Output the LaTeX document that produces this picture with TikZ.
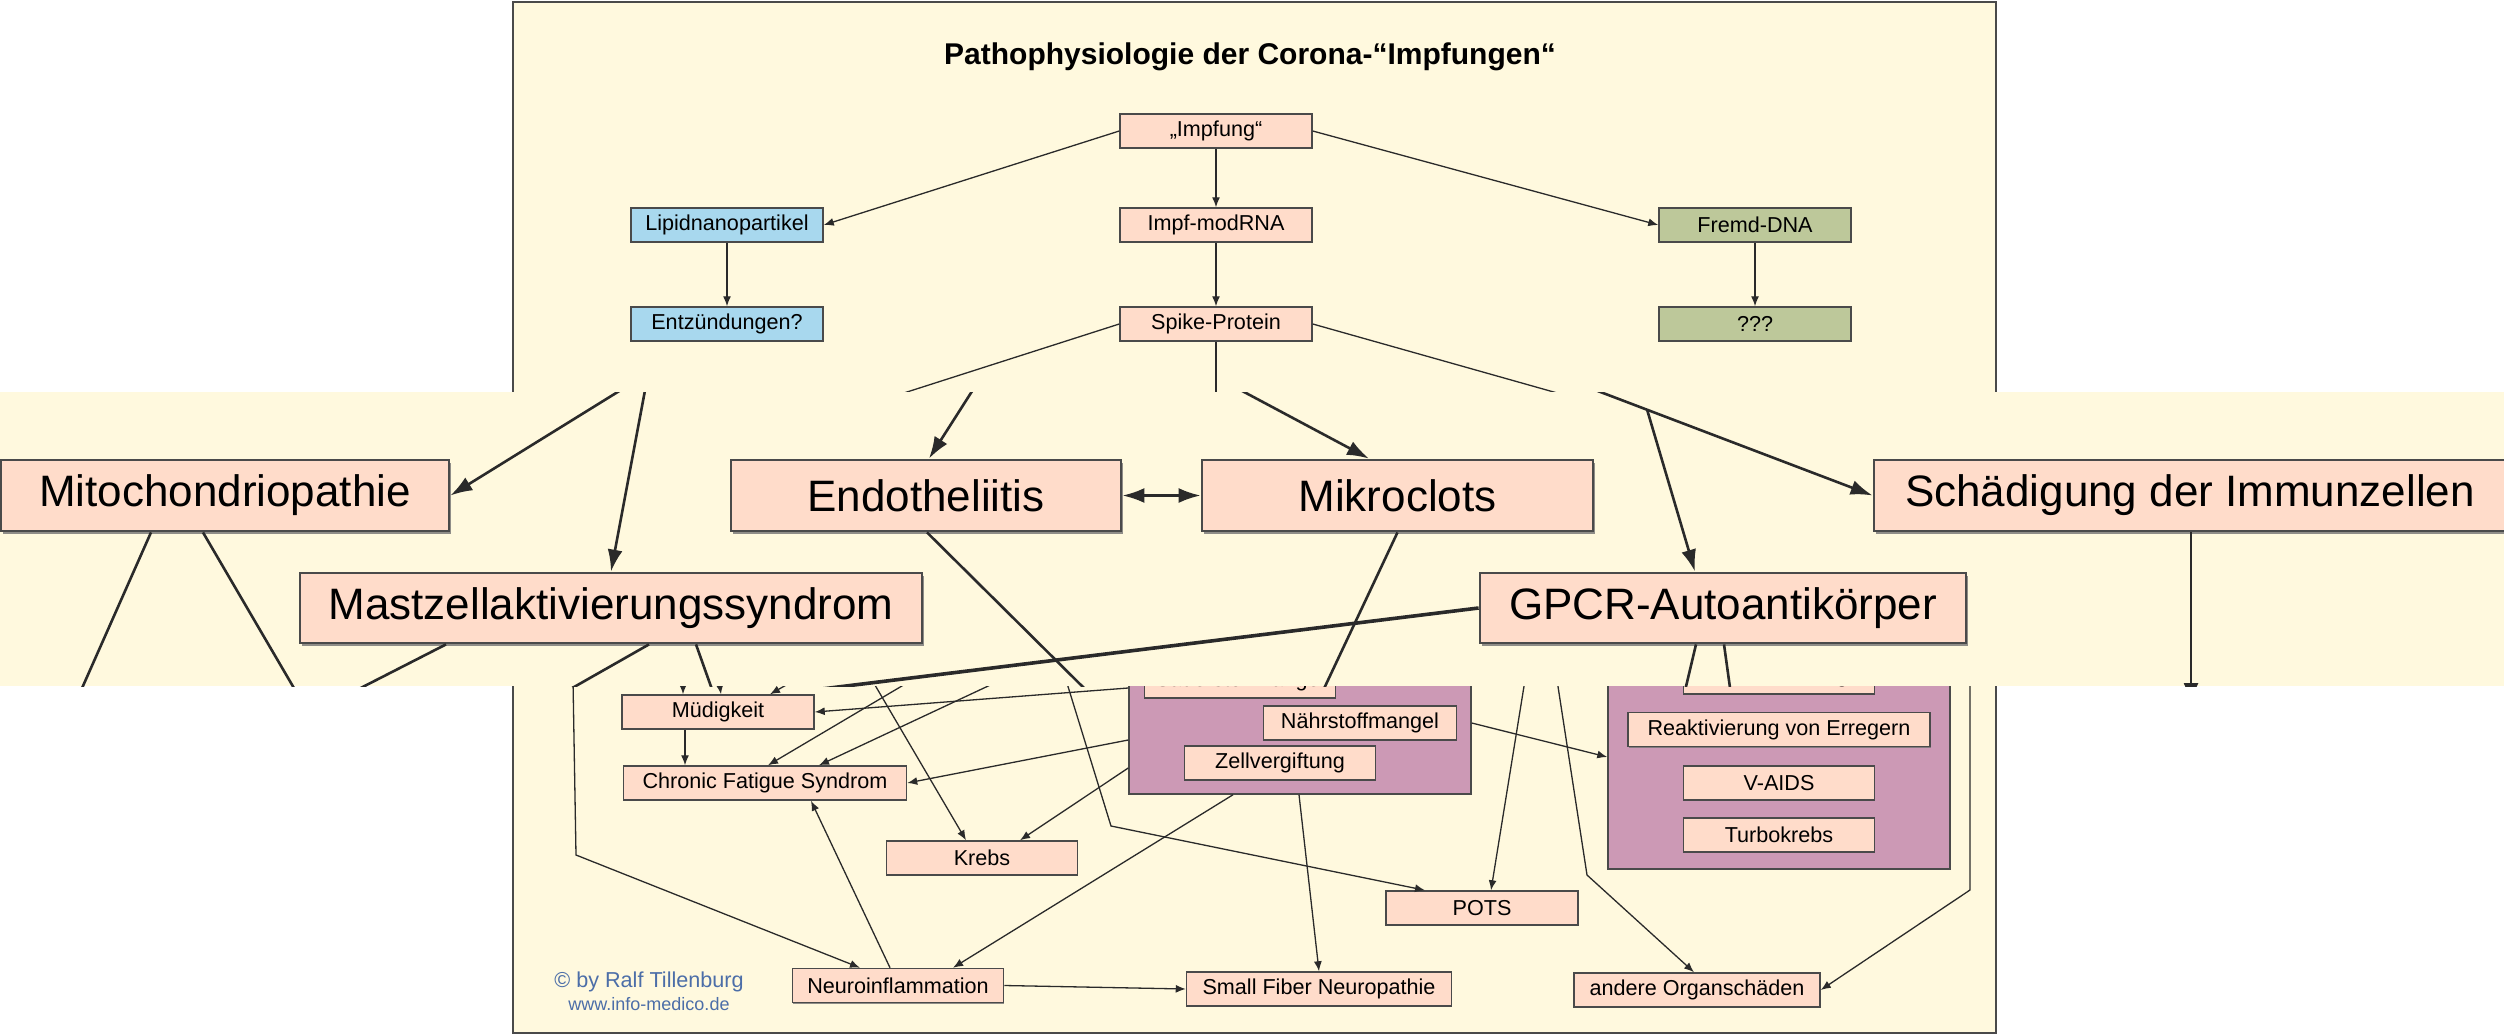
\documentclass[tikz,border=0pt]{standalone}
\usepackage{fontspec}
\setmainfont{Liberation Sans}
\usetikzlibrary{arrows.meta,calc,shadows}
\definecolor{cream}{HTML}{FFF9DE}
\definecolor{pk}{HTML}{FFDCCA}
\definecolor{bl}{HTML}{A8D8EE}
\definecolor{gr}{HTML}{BDC89A}
\definecolor{pu}{HTML}{CC99B5}
\definecolor{bord}{HTML}{4A4A4A}
\definecolor{lc}{HTML}{2A2A2A}
\definecolor{cpy}{HTML}{4C6EA8}
\newcommand\smallfnt{\fontsize{21.6}{26}\selectfont}
\newcommand\bigfnt{\fontsize{44}{52}\selectfont}
\begin{document}
\begin{tikzpicture}[x=1pt,y=-1pt,
  sbox/.style={draw=bord,line width=1.5pt,fill=pk,minimum height=34pt,inner sep=0pt,font=\smallfnt,
    drop shadow={shadow xshift=0.8pt,shadow yshift=-1.2pt,fill=black!55,opacity=0.8}},
  bbox/.style={draw=bord,line width=2.8pt,fill=pk,minimum height=71pt,inner sep=0pt,font=\bigfnt,
    drop shadow={shadow xshift=1.5pt,shadow yshift=-2.5pt,fill=black!55,opacity=0.8}},
  grp/.style={draw=bord,line width=1.5pt,fill=pu,inner sep=0pt},
  sln/.style={draw=lc,line width=1.3pt},
  sarr/.style={sln,-{Latex[length=10pt,width=8pt]}},
  bln/.style={draw=lc,line width=2.6pt},
  barr/.style={bln,-{Latex[length=22pt,width=15pt]}},
  barr2/.style={bln,{Latex[length=22pt,width=15pt]}-{Latex[length=22pt,width=15pt]}},
]
\useasboundingbox (0,0) rectangle (2504,1036);
\fill[white] (0,0) rectangle (2504,1036);
% slide
\draw[fill=cream,draw=bord,line width=2pt] (513,2) rectangle (1996,1033);
\node[font=\fontsize{30}{36}\selectfont\bfseries] (title) at (1250,57) {Pathophysiologie der Corona-“Impfungen“};
\node[sbox,minimum width=192pt] (imp) at (1216,131) {„Impfung“};
\node[sbox,fill=bl,minimum width=192pt] (lip) at (727,225) {Lipidnanopartikel};
\node[sbox,minimum width=192pt] (mod) at (1216,225) {Impf-modRNA};
\node[sbox,fill=gr,minimum width=192pt] (fremd) at (1755,225) {Fremd-DNA};
\node[sbox,fill=bl,minimum width=192pt] (entz) at (727,324) {Entzündungen?};
\node[sbox,minimum width=192pt] (spike) at (1216,324) {Spike-Protein};
\node[sbox,fill=gr,minimum width=192pt] (qqq) at (1755,324) {???};
\draw[sarr] (imp.west) -- (lip.east);
\draw[sarr] (imp) -- (mod);
\draw[sarr] (imp.east) -- (fremd.west);
\draw[sarr] (lip) -- (entz);
\draw[sarr] (mod) -- (spike);
\draw[sarr] (fremd) -- (qqq);
\coordinate (sp1) at (882,400);
\coordinate (sp2) at (1216,400);
\coordinate (sp3) at (1582,400);
\draw[sln] (spike.west) -- (sp1);
\draw[sln] (spike.south) -- (sp2);
\draw[sln] (spike.east) -- (sp3);
% lower slide
\node[grp,minimum width=342pt,minimum height=160pt] (grp1) at (1300,714) {};
\node[grp,minimum width=342pt,minimum height=235pt] (grp2) at (1779,751.5) {};
\node[sbox,minimum width=191pt] (sauer) at (1240,681) {Sauerstoffmangel};
\node[sbox,minimum width=193pt] (naehr) at (1360,723) {Nährstoffmangel};
\node[sbox,minimum width=191pt] (zell) at (1280,763) {Zellvergiftung};
\node[sbox,minimum width=191pt] (immun) at (1779,677) {Immunstörung};
\node[sbox,minimum width=302pt] (reakt) at (1779,729.5) {Reaktivierung von Erregern};
\node[sbox,minimum width=191pt] (vaids) at (1779,783) {V-AIDS};
\node[sbox,minimum width=191pt] (turbo) at (1779,835) {Turbokrebs};
\node[sbox,minimum width=192pt] (mued) at (718,712) {Müdigkeit};
\node[sbox,minimum width=283pt] (cfs) at (765,783) {Chronic Fatigue Syndrom};
\node[sbox,minimum width=191pt] (krebs) at (982,858) {Krebs};
\node[sbox,minimum width=211pt] (neuro) at (898,985.5) {Neuroinflammation};
\node[sbox,minimum width=265pt] (sfn) at (1319,989) {Small Fiber Neuropathie};
\node[sbox,minimum width=192pt] (pots) at (1482,908) {POTS};
\node[sbox,minimum width=246pt] (andere) at (1697,990) {andere Organschäden};
\node[text=cpy,font=\smallfnt] (copy) at (649,982) {© by Ralf Tillenburg};
\node[text=cpy,font=\fontsize{18}{21}\selectfont] (www) at (649,1004) {www.info-medico.de};
% lines from hidden sources
\coordinate (u1) at (573,680);
\coordinate (k1) at (576,855);
\draw[sarr] (u1) -- (k1) -- ([xshift=-38pt]neuro.north);
\coordinate (u2) at (683,680);
\draw[sarr] (u2) -- ([xshift=-35pt]mued.north);
\coordinate (u3) at (719,680);
\draw[sarr] (u3) -- ([xshift=3pt]mued.north);
\coordinate (u4) at (795,680);
\draw[sarr] (u4) -- ([xshift=52pt]mued.north);
\coordinate (u5) at (912,680);
\draw[sarr] (u5) -- ([xshift=3pt]cfs.north);
\coordinate (u6) at (1001,680);
\draw[sarr] (u6) -- ([xshift=54pt]cfs.north);
\coordinate (u7) at (872,680);
\draw[sarr] (u7) -- ([xshift=-16pt]krebs.north);
\coordinate (u8) at (1066,680);
\coordinate (k8) at (1111,826);
\draw[sarr] (u8) -- (k8) -- ([xshift=-57pt]pots.north);
\coordinate (u9) at (1525,680);
\draw[sarr] (u9) -- ([xshift=9pt]pots.north);
\coordinate (u10) at (1557,680);
\coordinate (k10) at (1587,875);
\draw[sarr] (u10) -- (k10) -- ([xshift=-3pt]andere.north);
\coordinate (u11) at (1970,680);
\coordinate (k11) at (1970,890);
\draw[sarr] (u11) -- (k11) -- (andere.east);
% group lines
\draw[sarr] (grp1.west |- 0,688) -- (mued.east);
\draw[sarr] (grp1.west |- 0,740) -- (cfs.east);
\draw[sarr] (grp1.west |- 0,768) -- ([xshift=38pt]krebs.north);
\draw[sarr] ([xshift=-67pt]grp1.south) -- ([xshift=55pt]neuro.north);
\draw[sarr] ([xshift=-1pt]grp1.south) -- (sfn.north);
\draw[sarr] ([xshift=-8pt]neuro.north) -- ([xshift=46pt]cfs.south);
\draw[sarr] ([xshift=-33pt]mued.south) -- ([xshift=-80pt]cfs.north);
\draw[sarr] (neuro.east) -- (sfn.west);
\draw[sarr] (grp1.east |- naehr.east) -- ([yshift=-5.5pt]grp2.west);
% magnified band
\begin{scope}
\clip (0,392) rectangle (2504,686);
\fill[cream] (0,392) rectangle (2504,686);
\node[bbox,minimum width=448pt] (mito) at (225,495.5) {Mitochondriopathie};
\node[bbox,minimum width=390pt] (endo) at (926,495.5) {Endotheliitis};
\node[bbox,minimum width=391pt] (mikro) at (1397.5,495.5) {Mikroclots};
\node[bbox,minimum width=632pt] (schaed) at (2190,495.5) {Schädigung der Immunzellen};
\node[bbox,minimum width=622pt,minimum height=70pt] (mast) at (611,608) {Mastzellaktivierungssyndrom};
\node[bbox,minimum width=486pt,minimum height=70pt] (gpcr) at (1723,608) {GPCR-Autoantikörper};
\coordinate (t1) at (629,385);
\coordinate (t2) at (646,385);
\coordinate (t3) at (976,385);
\coordinate (t4) at (1231,385);
\coordinate (t5) at (1582,385);
\coordinate (br) at (1647,409.4);
\draw[barr] (t1) -- (mito.east);
\draw[barr] (t2) -- (mast.north);
\draw[barr] (t3) -- ([xshift=3pt]endo.north);
\draw[barr] (t4) -- ([xshift=-28.5pt]mikro.north);
\draw[barr] (t5) -- (schaed.west);
\draw[barr] (br) -- ([xshift=-28pt]gpcr.north);
\draw[barr2] (endo.east) -- (mikro.west);
\coordinate (e0) at (2191,705);
\draw[barr] ([xshift=1pt]schaed.south) -- (e0);
\coordinate (e1) at (79,695);
\coordinate (e2) at (298,695);
\coordinate (e3) at (347,695);
\coordinate (e4) at (560,695);
\coordinate (e5) at (714,695);
\coordinate (e6) at (1091,695);
\coordinate (e7) at (1321,695);
\coordinate (e8) at (773,695);
\coordinate (e9) at (1684,695);
\coordinate (e10) at (1731,695);
\draw[bln] ([xshift=-74pt]mito.south) -- (e1);
\draw[bln] ([xshift=-22pt]mito.south) -- (e2);
\draw[bln] ([xshift=-165pt]mast.south) -- (e3);
\draw[bln] ([xshift=38pt]mast.south) -- (e4);
\draw[bln] ([xshift=85pt]mast.south) -- (e5);
\draw[bln] ([xshift=1pt]endo.south) -- (e6);
\draw[bln] (mikro.south) -- (e7);
\draw[bln,line width=3.6pt] (gpcr.west) -- (e8);
\draw[bln] ([xshift=-27pt]gpcr.south) -- (e9);
\draw[bln] ([xshift=1pt]gpcr.south) -- (e10);
\end{scope}
\end{tikzpicture}
\end{document}
